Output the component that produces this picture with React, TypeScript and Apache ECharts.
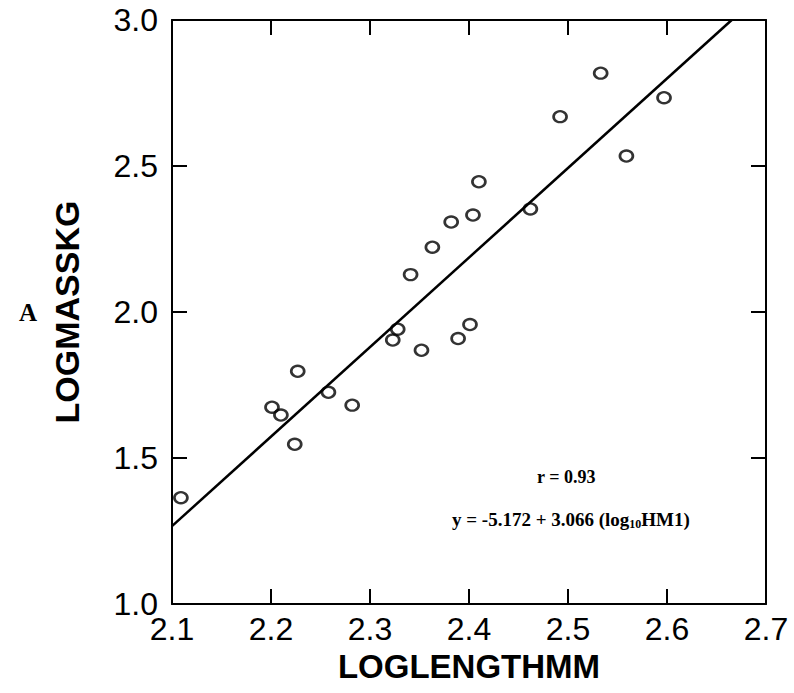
import React, { useEffect, useRef } from "react";
import * as echarts from "echarts";

const lengthLog: number[] = [
  2.109, 2.201, 2.21, 2.227, 2.224, 2.258, 2.282, 2.323, 2.328, 2.352, 2.389,
  2.401, 2.341, 2.363, 2.382, 2.404, 2.41, 2.462, 2.492, 2.533, 2.559, 2.597,
];
const massLog: number[] = [
  1.364, 1.674, 1.647, 1.797, 1.547, 1.725, 1.681, 1.904, 1.941, 1.869, 1.909,
  1.957, 2.128, 2.222, 2.308, 2.332, 2.446, 2.353, 2.669, 2.818, 2.534, 2.734,
];
const fitIntercept = -5.172;
const fitSlope = 3.066;
const xTickLabels = ["2.1", "2.2", "2.3", "2.4", "2.5", "2.6", "2.7"];
const yTickLabels = ["1.0", "1.5", "2.0", "2.5", "3.0"];
const xTitle = "LOGLENGTHMM";
const yTitle = "LOGMASSKG";
const panelLetter = "A";
const rText = "r = 0.93";

export default function App() {
  const ref = useRef<HTMLDivElement>(null);
  useEffect(() => {
    if (!ref.current) return;
    const chart = echarts.init(ref.current, undefined, { renderer: "svg" });
    const xMin = 2.1, xMax = 2.7, xInt = 0.1;
    const yMin = 1.0, yMax = 3.0, yInt = 0.5;
    const xEnd = (yMax - fitIntercept) / fitSlope;
    const fitData = [
      [xMin, fitIntercept + fitSlope * xMin],
      [xEnd, fitIntercept + fitSlope * xEnd],
    ];
    const lineStyle = { color: "#000", width: 2 };
    const tick = { show: true, inside: true, length: 15, lineStyle: { color: "#000", width: 2 } };
    const labelFont = { fontFamily: "Liberation Sans", fontSize: 32, color: "#000" };
    const xFmt = (v: number) => xTickLabels[Math.round((v - xMin) / xInt)] ?? "";
    const yFmt = (v: number) => yTickLabels[Math.round((v - yMin) / yInt)] ?? "";
    const baseX = { type: "value", min: xMin, max: xMax, interval: xInt, splitLine: { show: false }, axisLine: { show: true, onZero: false, lineStyle }, axisTick: tick };
    const baseY = { type: "value", min: yMin, max: yMax, interval: yInt, splitLine: { show: false }, axisLine: { show: true, onZero: false, lineStyle }, axisTick: tick };
    chart.setOption({
      animation: false,
      backgroundColor: "#fff",
      grid: { left: 172, right: 28, top: 20, bottom: 89 },
      xAxis: [
        {
          ...baseX,
          position: "bottom",
          axisLabel: { ...labelFont, margin: 9, formatter: xFmt },
          name: xTitle,
          nameLocation: "middle",
          nameGap: 42,
          nameTextStyle: { fontFamily: "Liberation Sans", fontSize: 33, fontWeight: "bold", color: "#000" },
        },
        { ...baseX, position: "top", axisLabel: { show: false } },
      ],
      yAxis: [
        {
          ...baseY,
          position: "left",
          axisLabel: { ...labelFont, margin: 14, formatter: yFmt },
          name: yTitle,
          nameLocation: "middle",
          nameRotate: 90,
          nameGap: 88,
          nameTextStyle: { fontFamily: "Liberation Sans", fontSize: 34, fontWeight: "bold", color: "#000" },
        },
        { ...baseY, position: "right", axisLabel: { show: false } },
      ],
      series: [
        {
          type: "line",
          data: fitData,
          showSymbol: false,
          lineStyle: { color: "#000", width: 2.5 },
          z: 2,
        },
        {
          type: "scatter",
          data: lengthLog.map((x, i) => [x, massLog[i]]),
          symbol: "circle",
          symbolSize: [13, 11],
          itemStyle: { color: "rgba(255,255,255,0)", borderColor: "#000", borderWidth: 2.5 },
          z: 3,
        },
      ],
      graphic: [
        {
          type: "text",
          left: 19,
          top: 300,
          style: { text: panelLetter, font: "bold 25px 'Liberation Serif'", fill: "#000" },
        },
        {
          type: "text",
          left: 537,
          top: 468,
          style: { text: rText, font: "bold 18px 'Liberation Serif'", fill: "#000" },
        },
        {
          type: "text",
          left: 452,
          top: 510,
          style: {
            text: "{a|y = -5.172 + 3.066 (log}{s|10}{a|HM1)}",
            rich: {
              a: { fontFamily: "Liberation Serif", fontWeight: "bold", fontSize: 19, fill: "#000", color: "#000" },
              s: { fontFamily: "Liberation Serif", fontWeight: "bold", fontSize: 12, fill: "#000", color: "#000", padding: [9, 0, 0, 0] },
            },
          },
        },
      ],
    });
    return () => chart.dispose();
  }, []);
  return <div ref={ref} style={{ position: "absolute", left: 0, top: 0, width: 794, height: 693 }} />;
}
